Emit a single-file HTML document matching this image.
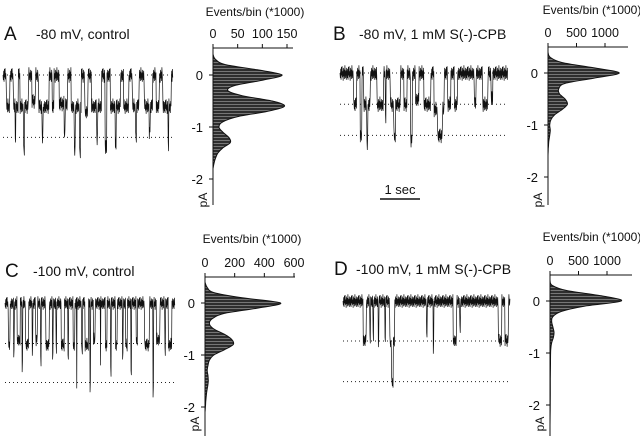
<!DOCTYPE html>
<html><head><meta charset="utf-8">
<style>
html,body{margin:0;padding:0;background:#fff;}
svg{display:block;font-family:"Liberation Sans",sans-serif;}
</style></head>
<body>
<svg id="fig" width="640" height="436" viewBox="0 0 640 436">
<defs>
<pattern id="hatch" width="4" height="3" patternUnits="userSpaceOnUse">
<rect width="4" height="3" fill="#2e2e2e"/>
<rect y="2" width="4" height="0.8" fill="#888"/>
</pattern>
</defs>
</svg>
<script>
// ---------- histogram data (pA level -> counts, in *1000) ----------
const histLevelsA=[0.4,0.3,0.2,0.1,0,-0.1,-0.2,-0.3,-0.4,-0.5,-0.6,-0.7,-0.8,-0.9,-1.0,-1.1,-1.2,-1.3,-1.4,-1.5,-1.6,-1.7,-1.8];
const histCountsA=[0,5,25,90,140,100,45,30,60,120,145,110,50,20,12,20,32,35,20,10,5,2,0];
const histLevelsB=[0.4,0.3,0.2,0.1,0,-0.1,-0.2,-0.3,-0.4,-0.5,-0.6,-0.7,-0.8,-0.9,-1.0,-1.1,-1.2,-1.3,-1.4,-1.5,-1.6];
const histCountsB=[0,40,250,800,1250,800,300,190,200,300,340,250,120,50,30,40,30,15,8,3,0];
const histLevelsC=[0.4,0.3,0.2,0.1,0,-0.1,-0.2,-0.3,-0.4,-0.5,-0.6,-0.7,-0.8,-0.9,-1.0,-1.1,-1.2,-1.3,-1.4,-1.5,-1.6,-1.7,-1.8,-1.9,-2.0,-2.1];
const histCountsC=[0,15,60,250,510,350,130,50,30,60,130,180,190,130,60,30,20,15,20,22,18,12,8,5,3,0];
const histLevelsD=[0.4,0.3,0.2,0.1,0,-0.1,-0.2,-0.3,-0.4,-0.5,-0.6,-0.7,-0.8,-0.9,-1.0,-1.2,-1.5,-1.8,-2.1,-2.4];
const histCountsD=[0,40,300,900,1250,600,200,50,30,50,70,60,30,15,10,8,6,5,3,0];
// ---------- x tick labels ----------
const xTicksA=[0,50,100,150];
const xTicksB=[0,500,1000];
const xTicksC=[0,200,400,600];
const xTicksD=[0,500,1000];
const yTicks=[0,-1,-2];
// ---------- channel openings [start%, end%, level pA] ----------
const eventsA=[[2,4,-0.6],[6,9,-0.6],[7,7.5,-1.2],[10,15,-0.6],[12,12.6,-1.45],[17,19,-0.5],[21,27,-0.6],[23,23.6,-1.2],[29,30,-0.6],[33,38,-0.55],[36,36.5,-1.1],[40,46,-0.6],[42,42.5,-1.5],[45,45.6,-1.5],[48,50,-0.7],[52,58,-0.6],[55,55.6,-1.2],[60,61,-1.4],[63,69,-0.6],[66,66.5,-1.3],[71,74,-0.6],[76,80,-0.6],[78,78.5,-1.2],[83,88,-0.6],[86,86.6,-1.1],[90,92,-0.6],[94,99,-0.6],[97,97.5,-1.35]];
const eventsB=[[8,10,-0.6],[12,13,-1.2],[14,18,-0.6],[16,16.5,-1.35],[22,26,-0.6],[27,27.5,-0.9],[30,36,-0.6],[32,33,-1.2],[38,40,-0.6],[42,43,-1.3],[45,47,-0.5],[50,54,-0.6],[56,62,-0.7],[58,61,-1.2],[64,66,-0.6],[68,70,-0.6],[80,81,-0.6],[85,88,-0.6],[90,91,-0.5]];
const eventsC=[[2,3,-0.8],[5,5.5,-1.0],[7,9,-0.7],[10,10.4,-1.2],[12,14,-0.8],[16,16.4,-0.9],[18,19,-0.7],[21,21.4,-1.1],[24,26,-0.8],[28,28.4,-1.0],[30,30.4,-0.9],[33,35,-0.8],[37,37.4,-1.0],[40,41,-0.8],[42,42.4,-1.6],[45,45.5,-0.9],[47,49,-0.8],[50,50.4,-1.6],[52,53,-0.7],[56,56.4,-1.1],[59,60,-0.8],[62,62.4,-1.3],[65,66,-0.8],[69,69.4,-1.0],[71,72,-0.8],[74,74.4,-1.3],[77,78,-0.7],[82,85,-0.8],[87,87.4,-1.7],[89,91,-0.7],[94,94.4,-0.9],[96,98,-0.8]];
const eventsD=[[12,14,-0.75],[16,16.4,-0.7],[18,18.4,-0.7],[21,21.4,-0.8],[25,25.4,-0.7],[28,31,-0.8],[29,30,-1.55],[50,50.5,-0.7],[54,54.4,-0.9],[66,68,-0.75],[70,70.4,-0.6],[93,95,-0.75],[97,99,-0.75]];

const NS="http://www.w3.org/2000/svg";
const svg=document.getElementById('fig');
function mk(tag,attrs,parent){const e=document.createElementNS(NS,tag);for(const k in attrs)e.setAttribute(k,attrs[k]);(parent||svg).appendChild(e);return e;}
function txt(x,y,s,size,anchor,parent){const t=mk('text',{x:x,y:y,'font-size':size,'text-anchor':anchor||'start',fill:'#111'},parent);t.textContent=s;return t;}

const jitter=[0,3,-2.5,4,-3.5,1.5,-4,2.5,-1,4.5,-3,2,-2,3.5,-4.5,0.5,3,-1.5,4,-3];

function panel(cfg){
  const g=mk('g',{});
  
  
  const lab=txt(cfg.labX,cfg.labY,cfg.id,19,'start',g);
  
  
  const ti=txt(cfg.titleX,cfg.labY-1,cfg.title,14,'start',g);
  
  
  const ys=v=>cfg.y0-v*cfg.ppa;
  const tg=mk('g',{},g);
  
  
  cfg.dotted.forEach(l=>{
    const d=mk('line',{x1:cfg.tx0,x2:cfg.tx1,y1:ys(l),y2:ys(l),stroke:'#222','stroke-width':1,'stroke-dasharray':'1 3'},tg);
    
    
  });
  let pts=[];let i=0;
  for(let x=cfg.tx0;x<=cfg.tx1;x+=0.35,i++){
    const t=(x-cfg.tx0)/(cfg.tx1-cfg.tx0)*100;
    let lv=0;
    cfg.events.forEach(e=>{if(t>=e[0]&&t<=e[1])lv=e[2];});
    pts.push(x.toFixed(2)+','+(ys(lv)+jitter[i%jitter.length]*cfg.noise).toFixed(1));
  }
  const pl=mk('polyline',{points:pts.join(' '),fill:'none',stroke:'#111','stroke-width':0.7},tg);
  
  
  const hg=mk('g',{},g);
  
  
  const hx=c=>cfg.hx0+c*cfg.hscale;
  let d='M'+cfg.hx0+','+ys(cfg.levels[0]);
  const P=cfg.levels.map((l,k)=>[hx(cfg.counts[k]),ys(l)]);
  for(let k=0;k<P.length-1;k++){
    const p0=P[Math.max(0,k-1)],p1=P[k],p2=P[k+1],p3=P[Math.min(P.length-1,k+2)];
    const c1=[p1[0]+(p2[0]-p0[0])/6,p1[1]+(p2[1]-p0[1])/6];
    const c2=[p2[0]-(p3[0]-p1[0])/6,p2[1]-(p3[1]-p1[1])/6];
    d+=(k===0?' L'+p1[0]+','+p1[1]:'')+' C'+c1[0].toFixed(1)+','+c1[1].toFixed(1)+' '+c2[0].toFixed(1)+','+c2[1].toFixed(1)+' '+p2[0].toFixed(1)+','+p2[1].toFixed(1);
  }
  d+=' L'+cfg.hx0+','+ys(cfg.levels[cfg.levels.length-1])+' Z';
  const area=mk('path',{d:d,fill:'url(#hatch)',stroke:'#111','stroke-width':1},hg);
  
  
  const ax=mk('g',{},hg);
  
  
  mk('line',{x1:cfg.hx0,x2:cfg.hxEnd,y1:cfg.axY,y2:cfg.axY,stroke:'#111','stroke-width':1},ax);
  cfg.xticks.forEach(v=>{
    mk('line',{x1:hx(v),x2:hx(v),y1:cfg.axY,y2:cfg.axY-4,stroke:'#111','stroke-width':1},ax);
    const t=txt(hx(v),cfg.axY-10,String(v),12.5,'middle',ax);
    
    
  });
  const xt=txt(cfg.evX,cfg.evY,'Events/bin (*1000)',12,'middle',ax);
  
  
  const ya=mk('g',{},hg);
  
  
  mk('line',{x1:cfg.hx0,x2:cfg.hx0,y1:cfg.axY,y2:cfg.yEnd,stroke:'#111','stroke-width':1},ya);
  yTicks.forEach(v=>{
    mk('line',{x1:cfg.hx0,x2:cfg.hx0-4,y1:ys(v),y2:ys(v),stroke:'#111','stroke-width':1},ya);
    const t=txt(cfg.hx0-10,ys(v)+5,String(v),13,'end',ya);
    
    
  });
  const yt=txt(0,0,'pA',12,'middle',ya);
  yt.setAttribute('transform','translate('+(cfg.hx0-6)+','+cfg.pAY+') rotate(-90)');
  
  
}

panel({id:'A',title:'-80 mV, control',labX:4,titleX:36,labY:40,y0:75,ppa:52,tx0:3,tx1:173,dotted:[0,-1.2],events:eventsA,noise:1.7,
  levels:histLevelsA,counts:histCountsA,hx0:213,hscale:(287-213)/150,hxEnd:293,axY:48,xticks:xTicksA,evX:255,evY:16,yEnd:205,pAY:200});
panel({id:'B',title:'-80 mV, 1 mM S(-)-CPB',labX:333,titleX:359,labY:40,y0:73,ppa:52,tx0:340,tx1:508,dotted:[0,-0.6,-1.2],events:eventsB,noise:1.7,
  levels:histLevelsB,counts:histCountsB,hx0:548,hscale:(605-548)/1000,hxEnd:628,axY:47,xticks:xTicksB,evX:592,evY:14,yEnd:205,pAY:200});
panel({id:'C',title:'-100 mV, control',labX:5,titleX:33,labY:277,y0:303,ppa:52,tx0:5,tx1:175,dotted:[-0.78,-1.53],events:eventsC,noise:1.5,
  levels:histLevelsC,counts:histCountsC,hx0:205,hscale:(294-205)/600,hxEnd:295,axY:277,xticks:xTicksC,evX:252,evY:243,yEnd:436,pAY:424});
panel({id:'D',title:'-100 mV, 1 mM S(-)-CPB',labX:334,titleX:356,labY:275,y0:301,ppa:52,tx0:343,tx1:510,dotted:[-0.77,-1.55],events:eventsD,noise:1.5,
  levels:histLevelsD,counts:histCountsD,hx0:550,hscale:(607-550)/1000,hxEnd:632,axY:275,xticks:xTicksD,evX:592,evY:241,yEnd:436,pAY:424});

const sb=mk('g',{});


mk('line',{x1:380,x2:420,y1:199,y2:199,stroke:'#111','stroke-width':1.5},sb);
const st=txt(400,194,'1 sec',13,'middle',sb);


</script>
</body></html>
